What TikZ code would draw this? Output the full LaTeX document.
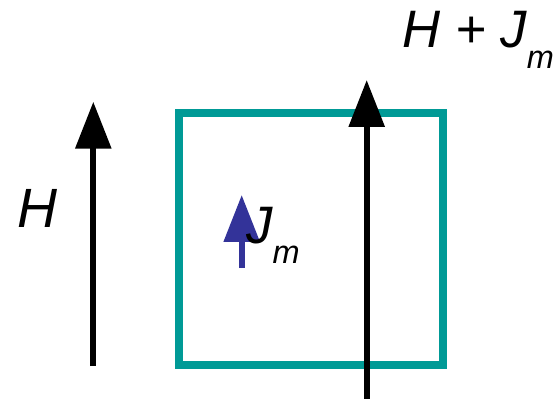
\documentclass[tikz,border=0pt]{standalone}
\usepackage{fontspec}
\setmainfont{Liberation Sans}
\usetikzlibrary{arrows.meta}
\definecolor{teal}{HTML}{009A96}
\definecolor{momentblue}{HTML}{333399}
\newcommand{\subm}{\raisebox{-11.5pt}{\fontsize{18.5}{22}\selectfont m}}
\tikzset{field/.style={-{Triangle[length=.94cm,width=.7cm]},line width=.12cm,draw=black},
  moment/.style={field,draw=momentblue,fill=momentblue},
  lbl/.style={inner sep=0pt,anchor=base west,font=\itshape}}

\begin{document}
\begin{tikzpicture}[x=.02cm,y=-.02cm,sample/.style={draw=teal,line width=.16cm,minimum width=5.28cm,minimum height=5.04cm,inner sep=0pt}]
\useasboundingbox (0,0) rectangle (559,399);
% sample: the magnetised body
\node[sample] (body) at (311,239) {};
% applied field outside
\coordinate (hbot) at (93.3,366);
\coordinate (htop) at (93.3,101.7);
\draw[field] (hbot)--(htop);
\node[lbl,font=\itshape\fontsize{31.5}{36}\selectfont] (hlabel) at (17,228) {H};
% field through the body
\coordinate (sbot) at (366.7,399);
\coordinate (stop) at (366.7,80);
\draw[field] (sbot)--(stop);
\node[lbl,font=\itshape\fontsize{30}{34}\selectfont] (sumlabel) at (402,48) {H + J\subm};
% magnetisation inside
\coordinate (mbot) at (241.7,268);
\coordinate (mtop) at (241.7,195);
\draw[moment] (mbot)--(mtop);
\node[lbl,font=\itshape\fontsize{30}{34}\selectfont] (jmlabel) at (246,243) {J\subm};
\end{tikzpicture}
\end{document}
